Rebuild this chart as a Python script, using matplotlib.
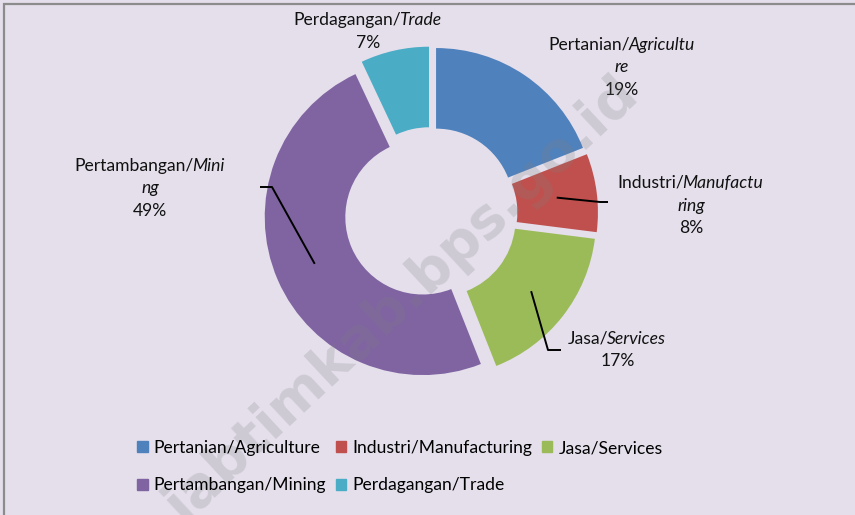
import matplotlib.pyplot as plt
from matplotlib.patches import Rectangle, Patch
from matplotlib.transforms import offset_copy
import numpy as np

plt.rcParams['font.family'] = ['Lato', 'DejaVu Sans']

# data
sectors = ["Pertanian/Agriculture", "Industri/Manufacturing", "Jasa/Services",
           "Pertambangan/Mining", "Perdagangan/Trade"]
shares = [19, 8, 17, 49, 7]
colors = ["#4F81BD", "#C0504D", "#9BBB59", "#8064A2", "#4BACC6"]
# label lines: (regular part, italic part)
label_lines = [
    [("Pertanian/", "Agricultu"), ("", "re")],
    [("Industri/", "Manufactu"), ("", "ring")],
    [("Jasa/", "Services")],
    [("Pertambangan/", "Mini"), ("", "ng")],
    [("Perdagangan/", "Trade")],
]

W, H = 855, 515
cx, cy, R = 431, 213.5, 158   # donut centre / radius in pixels (from top)
bg = "#E4DFEB"

fig = plt.figure(figsize=(W / 100, H / 100), dpi=100)
fig.patch.set_facecolor(bg)
ax = fig.add_axes([0, 0, 1, 1])

def px(x, y):
    return (x - cx) / R, (cy - y) / R

explode = 0.057
wedges, _ = ax.pie(shares, colors=colors, startangle=90, counterclock=False,
                   radius=1, explode=[explode] * len(shares),
                   wedgeprops=dict(width=0.51, linewidth=0))
ax.set_xlim(-cx / R, (W - cx) / R)
ax.set_ylim(-(H - cy) / R, cy / R)
ax.set_aspect("equal")
ax.axis("off")

# data labels
label_pos = [(622, 45), (691, 183), (618, 339), (150, 166), (368, 20)]
renderer = fig.canvas.get_renderer()
fs = 12.6
for lines, val, (lx, ly) in zip(label_lines, shares, label_pos):
    rows = list(lines) + [(f"{val}%", "")]
    for k, (reg, ita) in enumerate(rows):
        x0, y0 = px(lx, ly + k * 22.5)
        pieces = []
        for txt, style in ((reg, "normal"), (ita, "italic")):
            if txt:
                t = ax.text(x0, y0, txt, fontsize=fs, style=style, color="#111111",
                            ha="left", va="center")
                w = t.get_window_extent(renderer).width
                pieces.append((t, w))
        total = sum(w for _, w in pieces)
        off = -total / 2
        for t, w in pieces:
            t.set_transform(offset_copy(ax.transData, fig=fig, x=off, y=0, units="dots"))
            off += w - 1.5

# leader lines
cum = np.cumsum([0] + shares)
elbows = {3: [(272, 187), (260, 187)], 1: [(600, 202), (608, 202)],
          2: [(548, 350), (561, 350)]}
for i, pts in elbows.items():
    mid = np.deg2rad(90 - (cum[i] + shares[i] / 2) / 100 * 360)
    r0 = 1 - 0.51 / 2 + explode
    xs = [r0 * np.cos(mid)] + [px(*p)[0] for p in pts]
    ys = [r0 * np.sin(mid)] + [px(*p)[1] for p in pts]
    ax.plot(xs, ys, color="black", lw=1.4, solid_capstyle="butt")

# legend (row-major order)
handles = [Patch(color=c) for c in colors]
order = [0, 3, 1, 4, 2]
fig.legend([handles[i] for i in order], [sectors[i] for i in order],
           ncol=3, loc="upper left", bbox_to_anchor=(137 / W, 1 - 440 / H),
           frameon=False, fontsize=fs, handlelength=0.6, handleheight=0.6,
           handletextpad=0.35, columnspacing=0.55, labelspacing=1.22,
           borderpad=0, borderaxespad=0)

# watermark
wx, wy = px(403, 302)
ax.text(wx, wy, "jabtimkab.bps.go.id", fontsize=40, fontweight="bold",
        color="#7f7f7f", alpha=0.22, rotation=43, ha="center", va="center",
        family="DejaVu Sans", zorder=10)

# chart border (left/top visible)
fig.patches.append(Rectangle((4 / W, -0.1), 1.1, 1.1 - 3.5 / H, transform=fig.transFigure,
                             fill=False, edgecolor="#8c8c8c", lw=1.6))

fig.savefig("out.png", dpi=100, facecolor=bg)
